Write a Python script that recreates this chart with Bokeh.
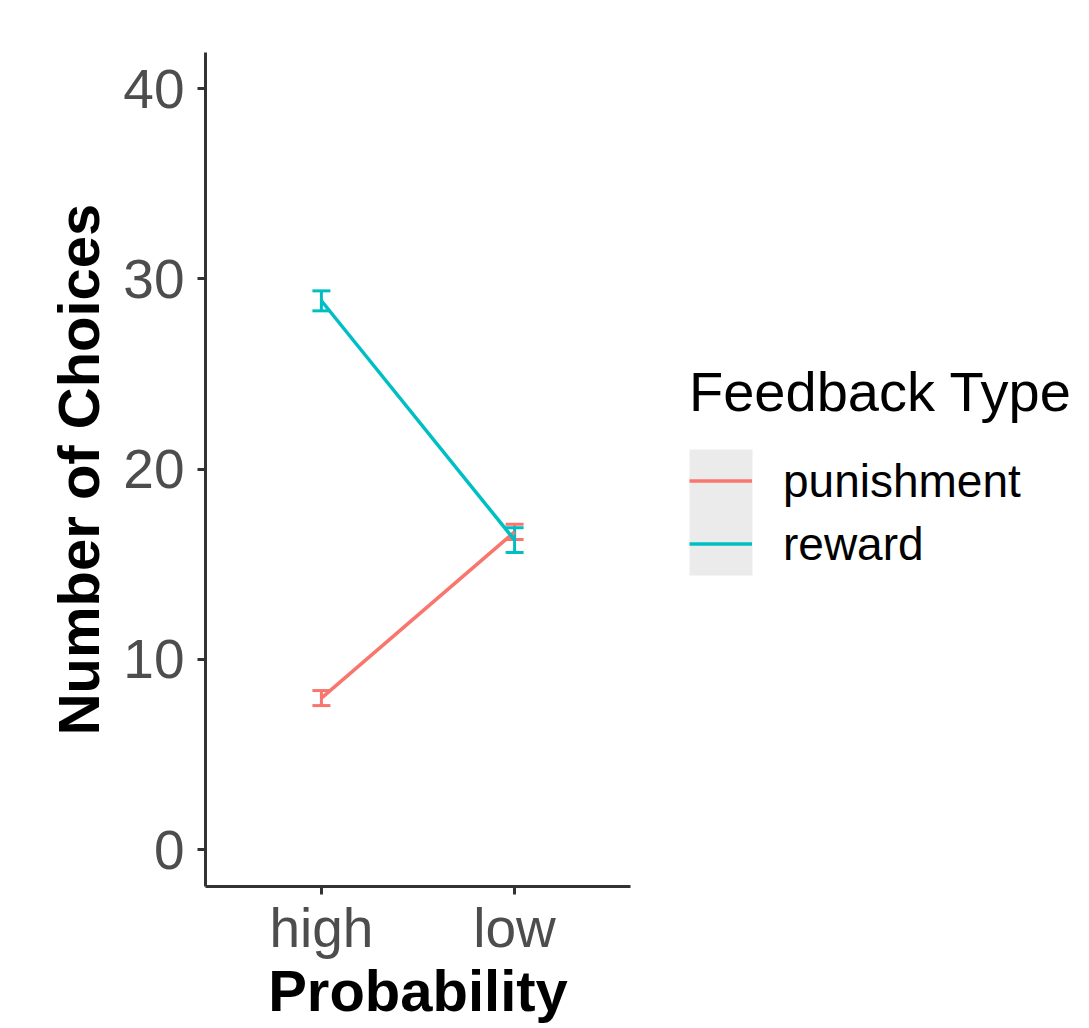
from bokeh.plotting import figure
from bokeh.layouts import row
from bokeh.models import (ColumnDataSource, FactorRange, Range1d, Whisker, TeeHead,
                          Legend, LegendItem, FixedTicker, BoxAnnotation)
from bokeh.embed import file_html
from bokeh.resources import INLINE

categories = ["high", "low"]
punishment_mean = [7.96, 16.7]
punishment_lower = [7.57, 16.3]
punishment_upper = [8.36, 17.1]
reward_mean = [28.85, 16.27]
reward_lower = [28.32, 15.62]
reward_upper = [29.37, 16.92]
y_ticks = [0, 10, 20, 30, 40]
series_names = ["punishment", "reward"]
series_colors = ["#F8766D", "#00BFC4"]

FONT = "Liberation Sans"

p = figure(width=632, height=1028, output_backend="svg", toolbar_location=None,
           x_range=FactorRange(factors=categories, range_padding=0.1),
           y_range=Range1d(-1.94, 41.9),
           min_border_left=205, min_border_right=2,
           min_border_top=52, min_border_bottom=142)
p.outline_line_color = None
p.xgrid.grid_line_color = None
p.ygrid.grid_line_color = None
p.background_fill_color = "white"
p.border_fill_color = "white"

p.yaxis.ticker = FixedTicker(ticks=y_ticks)
for ax in (p.xaxis, p.yaxis):
    ax.axis_line_width = 3
    ax.axis_line_color = "#333333"
    ax.major_tick_line_width = 3
    ax.major_tick_line_color = "#333333"
    ax.major_tick_out = 8
    ax.major_tick_in = 0
    ax.minor_tick_line_color = None
    ax.major_label_text_font = FONT
    ax.major_label_text_font_size = "55px"
    ax.major_label_text_color = "#4D4D4D"
    ax.axis_label_text_font = FONT
    ax.axis_label_text_font_size = "58px"
    ax.axis_label_text_font_style = "bold"
    ax.axis_label_text_color = "black"

p.xaxis.axis_label = "Probability"
p.yaxis.axis_label = "Number of Choices"
p.xaxis.major_label_standoff = 2
p.yaxis.major_label_standoff = 13
p.xaxis.axis_label_standoff = -4
p.yaxis.axis_label_standoff = 9

means = [punishment_mean, reward_mean]
lowers = [punishment_lower, reward_lower]
uppers = [punishment_upper, reward_upper]

for name, color, m, lo, up in zip(series_names, series_colors, means, lowers, uppers):
    src = ColumnDataSource(data=dict(x=categories, y=m, lower=lo, upper=up))
    p.line(x="x", y="y", source=src, line_color=color, line_width=3.5)
    w = Whisker(base="x", lower="lower", upper="upper", source=src, dimension="height",
                line_color=color, line_width=3,
                upper_head=TeeHead(size=18, line_color=color, line_width=3),
                lower_head=TeeHead(size=18, line_color=color, line_width=3))
    p.add_layout(w)

# Legend panel (separate figure so the legend is not clipped by the plot frame)
lg = figure(width=457, height=1028, output_backend="svg", toolbar_location=None,
            x_range=Range1d(0, 1), y_range=Range1d(0, 1),
            x_axis_location=None, y_axis_location=None,
            min_border_left=0, min_border_right=0, min_border_top=0, min_border_bottom=0)
lg.outline_line_color = None
lg.xgrid.grid_line_color = None
lg.ygrid.grid_line_color = None
lg.background_fill_color = "white"
lg.border_fill_color = "white"

# legend layout constants (pixels, in the legend panel's canvas)
KEY_LEFT, KEY_W, KEY_H, KEY_TOP = 57, 63, 63, 449
key_bg = BoxAnnotation(left=KEY_LEFT, right=KEY_LEFT + KEY_W,
                       top=KEY_TOP, bottom=KEY_TOP + 2 * KEY_H,
                       left_units="canvas", right_units="canvas",
                       top_units="canvas", bottom_units="canvas",
                       fill_color="#EBEBEB", fill_alpha=1.0, line_color=None,
                       level="underlay")
lg.add_layout(key_bg)

items = []
for name, color in zip(series_names, series_colors):
    # dummy renderer kept outside the visible range; used only for the legend key
    ln = lg.line(x=[5, 6], y=[5, 6], line_color=color, line_width=3.5)
    items.append(LegendItem(label=name, renderers=[ln]))

legend = Legend(items=items, location=(KEY_LEFT, 311), orientation="vertical",
                title="Feedback Type",
                title_text_font=FONT, title_text_font_size="56px",
                title_text_font_style="normal", title_text_color="black",
                title_standoff=25,
                label_text_font=FONT, label_text_font_size="46px",
                label_text_color="black", label_standoff=31,
                glyph_width=KEY_W, glyph_height=KEY_H, label_height=KEY_H,
                spacing=0, padding=0, margin=0,
                border_line_color=None, background_fill_alpha=0)
lg.add_layout(legend, "center")

layout = row(p, lg, spacing=0)
open("out.html", "w").write(file_html(layout, INLINE))
